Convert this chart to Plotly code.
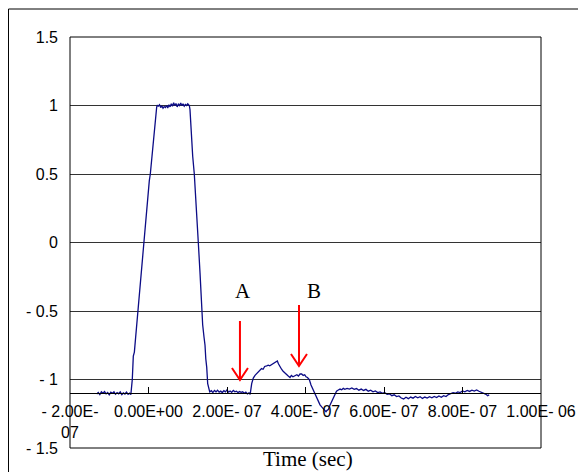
import plotly.graph_objects as go

# ---- data (time in ns, amplitude) ----
t_ns = [
    -132, -128, -124, -120, -116, -112, -108, -104, -100, -96, -92, -88, -84, -80, -76, -72, -68, -64, -60, -56, -52, -48, -45,
    -43, -41.3, -38.7, -36, -33, -30, -27.5, -25, -23.4, -21, -19.1, -16, -13.2, -11, -8.9, -7.1, -4, -0.5, 2, 4.6, 7, 9.7, 12.7, 14.5, 16.6, 19, 20.9,
    22.4, 25, 28, 31, 34, 37, 40, 43, 46, 49, 52, 55, 58, 61, 64, 67, 70, 73, 76, 79, 82, 85, 88, 91, 94, 97, 100, 104,
    105.7, 108.3, 110.5, 112.6, 116.7, 119, 121, 124.3, 126.9, 131.2, 133.5, 135.5, 138, 141.4, 144, 146, 148.3, 150.8, 154.1,
    156, 160, 164, 168, 172, 176, 180, 184, 188, 192, 196, 200, 204, 208, 212, 216, 220, 224, 228, 232, 236, 240, 244, 248, 252, 256, 259,
    262.9, 267, 271.4, 276, 280, 284.1, 288, 292, 296, 301.2, 305, 309, 313.9, 318, 322, 325, 328.2, 331, 335, 339, 343, 347.8, 352, 356, 360.5,
    364, 368, 373.3, 378, 382, 386, 390.3, 394, 398, 401.3, 405, 409.7, 414, 419.9, 424, 428.5, 433, 437, 441.3, 445, 449, 452.2, 455, 458.1,
    462, 466.8, 471, 475.2, 479, 483.6, 488, 492, 496.3,
    500, 506, 512, 518, 524, 530, 536, 542, 548, 554, 560, 566, 572, 578, 584, 590, 596, 602, 608, 614, 620, 626, 632, 638, 644, 650,
    656, 662, 668, 674, 680, 686, 692, 698, 704, 710, 716, 722, 728, 734, 740, 746, 752, 758, 764, 770, 776, 782, 788, 794, 800,
    806, 812, 818, 824, 830, 836, 842, 848, 854, 860, 864, 868,
]
volts = [
    -1.105, -1.095, -1.11, -1.09, -1.1, -1.088, -1.105, -1.095, -1.112, -1.092, -1.1, -1.09, -1.108, -1.096, -1.104, -1.09, -1.11, -1.098, -1.106, -1.092, -1.108, -1.1, -1.11,
    -1.06, -1.0, -0.83, -0.8, -0.7, -0.6, -0.5, -0.42, -0.36, -0.28, -0.2, -0.1, 0.0, 0.05, 0.09, 0.14, 0.26, 0.38, 0.45, 0.5, 0.58, 0.66, 0.76, 0.8, 0.87, 0.94, 0.99,
    1.0, 0.995, 1.005, 0.985, 0.998, 0.98, 0.992, 0.985, 1.0, 0.982, 1.005, 0.99, 1.012, 0.995, 1.02, 1.0, 1.015, 0.99, 1.01, 1.0, 1.018, 0.998, 1.012, 0.995, 1.008, 1.0, 1.012, 1.0,
    0.97, 0.8, 0.72, 0.63, 0.5, 0.4, 0.31, 0.14, 0.0, -0.22, -0.36, -0.5, -0.6, -0.69, -0.75, -0.85, -0.91, -1.03, -1.08,
    -1.09, -1.082, -1.095, -1.08, -1.09, -1.078, -1.092, -1.085, -1.095, -1.082, -1.09, -1.076, -1.092, -1.084, -1.094, -1.08, -1.09, -1.085, -1.096, -1.088, -1.094, -1.09, -1.1, -1.092, -1.105, -1.098, -1.108,
    -1.03, -0.99, -0.97, -0.955, -0.94, -0.93, -0.92, -0.925, -0.905, -0.9, -0.895, -0.9, -0.89, -0.885, -0.88, -0.87, -0.865, -0.885, -0.91, -0.925, -0.94, -0.955, -0.962, -0.975, -0.985,
    -0.97, -0.98, -0.975, -0.965, -0.975, -0.96, -0.96, -0.97, -0.965, -0.98, -0.985, -1.0, -1.04, -1.08, -1.11, -1.14, -1.16, -1.185, -1.2, -1.21, -1.225, -1.235, -1.225, -1.22,
    -1.19, -1.16, -1.13, -1.1, -1.085, -1.077, -1.07, -1.075, -1.065,
    -1.072, -1.065, -1.07, -1.062, -1.072, -1.066, -1.078, -1.07, -1.08, -1.072, -1.085, -1.078, -1.09, -1.084, -1.095, -1.09, -1.1, -1.096, -1.108, -1.104, -1.118, -1.112, -1.125, -1.12, -1.135, -1.142,
    -1.13, -1.14, -1.128, -1.136, -1.124, -1.134, -1.126, -1.138, -1.128, -1.136, -1.126, -1.134, -1.124, -1.132, -1.12, -1.13, -1.118, -1.124, -1.11, -1.104, -1.096, -1.1, -1.09, -1.095, -1.084,
    -1.09, -1.08, -1.087, -1.078, -1.085, -1.076, -1.086, -1.092, -1.1, -1.108, -1.118, -1.112,
]

x_tickvals = [-200, 0, 200, 400, 600, 800, 1000]
x_ticktext = ["- 2.00E-<br>07", "0.00E+00", "2.00E- 07", "4.00E- 07", "6.00E- 07", "8.00E- 07", "1.00E- 06"]
y_tickvals = [1.5, 1, 0.5, 0, -0.5, -1, -1.5]
y_ticktext = ["1.5", "1", "0.5", "0", "- 0.5", "- 1", "- 1.5"]

x_range = [-200, 1000]
y_range = [-1.5, 1.5]
x_axis_cross = -1.1

# annotation markers
marker_labels = ["A", "B"]
label_x = [241.5, 420.9]
label_y = [-0.352, -0.352]
arrow_x = [233, 383.4]
arrow_tail_y = [-0.573, -0.456]
arrow_tip_y = [-1.004, -0.902]

fig = go.Figure()
fig.add_trace(go.Scatter(x=t_ns, y=volts, mode="lines",
                         line=dict(color="#0c0c86", width=1.3), showlegend=False,
                         hoverinfo="skip"))

cross_pos = (x_axis_cross - y_range[0]) / (y_range[1] - y_range[0])

tick_font = dict(family="Liberation Sans, Arial, sans-serif", size=16, color="black")
serif_font = dict(family="Liberation Serif, Times New Roman, serif", size=21, color="black")

# page body adds an 8px offset, so margins are compensated
fig.update_layout(
    width=586, height=472,
    margin=dict(l=62, r=53, t=29, b=32, autoexpand=False),
    paper_bgcolor="white", plot_bgcolor="white",
    xaxis=dict(range=x_range, anchor="free", position=cross_pos, automargin=False,
               tickvals=x_tickvals, ticktext=x_ticktext, tickfont=tick_font,
               showgrid=False, zeroline=False, showline=True, linecolor="black", linewidth=1,
               ticks="inside", ticklen=6, tickcolor="black", tickwidth=1,
               ticklabelstandoff=4),
    yaxis=dict(range=y_range, tickvals=y_tickvals, ticktext=y_ticktext, tickfont=tick_font,
               automargin=False,
               showgrid=True, gridcolor="#333333", gridwidth=1, zeroline=False,
               showline=False, ticks="", ticklabelstandoff=11),
)

# plot box
fig.add_shape(type="rect", xref="x domain", yref="y domain", x0=0, x1=1, y0=0, y1=1,
              line=dict(color="black", width=1), layer="above")
# outer frame (only left and top visible)
fig.add_shape(type="rect", xref="paper", yref="paper", x0=-0.1306, x1=1.3, y0=-0.3, y1=1.0681,
              line=dict(color="black", width=1), layer="above")

for lab, lx, ly, ax, at, ap in zip(marker_labels, label_x, label_y, arrow_x, arrow_tail_y, arrow_tip_y):
    fig.add_annotation(x=lx, y=ly, xref="x", yref="y", text=lab, showarrow=False,
                       font=serif_font, xanchor="center", yanchor="middle")
    fig.add_shape(type="line", xref="x", yref="y", x0=ax, x1=ax, y0=at, y1=ap,
                  line=dict(color="#ff0000", width=2))
    fig.add_shape(type="path", xref="x", yref="y", xsizemode="pixel", ysizemode="pixel",
                  xanchor=ax, yanchor=ap, path="M -8,12 L 0,0 L 8,12",
                  line=dict(color="#ff0000", width=2))

fig.add_annotation(x=0.505, y=0, xref="paper", yref="paper", yshift=-11,
                   text="Time (sec)", showarrow=False, font=serif_font,
                   xanchor="center", yanchor="middle")

fig.write_html("out.html")
